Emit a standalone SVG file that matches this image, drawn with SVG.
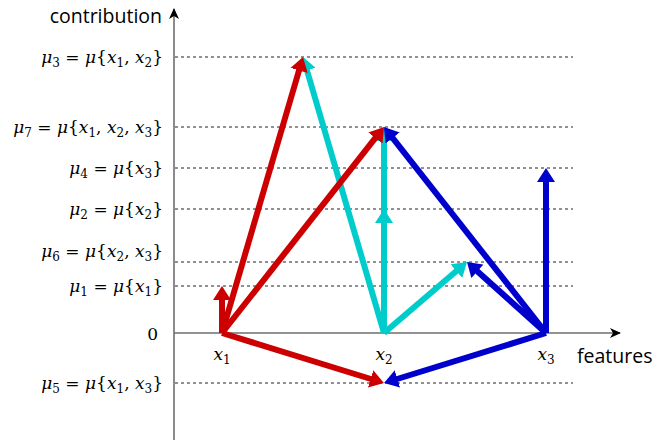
<svg xmlns="http://www.w3.org/2000/svg" width="667" height="444" viewBox="0 0 667 444">
<style>
.axis{stroke:#6e6e6e;stroke-width:1.6;fill:none}
.grid{stroke:#222;stroke-width:1;stroke-dasharray:3,3;fill:none}
.ser{font-family:'DejaVu Serif','Liberation Serif',serif;font-size:17px;fill:#000}
.i{font-style:italic}
.sub{font-size:12px}
.sans{font-family:'Open Sans','Liberation Sans',sans-serif;font-size:19.5px;fill:#000}
.r{stroke:#cc0000;stroke-width:6;fill:none;marker-end:url(#hr)}
.c{stroke:#00cccc;stroke-width:6;fill:none;marker-end:url(#hc)}
.b{stroke:#0000cc;stroke-width:6;fill:none;marker-end:url(#hb)}
</style>
<defs>
<marker id="ax" markerUnits="userSpaceOnUse" markerWidth="12" markerHeight="10" refX="10" refY="5" orient="auto"><path d="M0,0 L11,5 L0,10 L3,5 z" fill="#000"/></marker>
<marker id="hr" markerUnits="userSpaceOnUse" markerWidth="14" markerHeight="18" refX="2" refY="9" orient="auto"><path d="M0,0 L14,9 L0,18 z" fill="#cc0000"/></marker>
<marker id="hc" markerUnits="userSpaceOnUse" markerWidth="14" markerHeight="18" refX="2" refY="9" orient="auto"><path d="M0,0 L14,9 L0,18 z" fill="#00cccc"/></marker>
<marker id="hb" markerUnits="userSpaceOnUse" markerWidth="14" markerHeight="18" refX="2" refY="9" orient="auto"><path d="M0,0 L14,9 L0,18 z" fill="#0000cc"/></marker>
</defs>
<rect width="667" height="444" fill="#fff"/>
<g id="grid">
<line class="grid" x1="175" y1="57" x2="573" y2="57"/>
<line class="grid" x1="175" y1="127" x2="573" y2="127"/>
<line class="grid" x1="175" y1="168" x2="573" y2="168"/>
<line class="grid" x1="175" y1="209" x2="573" y2="209"/>
<line class="grid" x1="175" y1="262" x2="573" y2="262"/>
<line class="grid" x1="175" y1="286" x2="573" y2="286"/>
<line class="grid" x1="175" y1="383" x2="573" y2="383"/>
</g>
<g id="axes">
<line class="axis" x1="174" y1="440" x2="174" y2="9" marker-end="url(#ax)"/>
<line class="axis" x1="174" y1="333" x2="620" y2="333" marker-end="url(#ax)"/>
<text class="sans" x="162" y="23" text-anchor="end">contribution</text>
<text class="sans" x="577" y="363">features</text>
</g>
<g id="labels">
<text class="ser" x="163" y="63" text-anchor="end"><tspan class="i">μ</tspan><tspan class="sub" dy="4">3</tspan><tspan dy="-4"> = </tspan><tspan class="i">μ</tspan>{<tspan class="i">x</tspan><tspan class="sub" dy="4">1</tspan><tspan dy="-4">, </tspan><tspan class="i">x</tspan><tspan class="sub" dy="4">2</tspan><tspan dy="-4">}</tspan></text>
<text class="ser" x="163" y="133" text-anchor="end"><tspan class="i">μ</tspan><tspan class="sub" dy="4">7</tspan><tspan dy="-4"> = </tspan><tspan class="i">μ</tspan>{<tspan class="i">x</tspan><tspan class="sub" dy="4">1</tspan><tspan dy="-4">, </tspan><tspan class="i">x</tspan><tspan class="sub" dy="4">2</tspan><tspan dy="-4">, </tspan><tspan class="i">x</tspan><tspan class="sub" dy="4">3</tspan><tspan dy="-4">}</tspan></text>
<text class="ser" x="163" y="174" text-anchor="end"><tspan class="i">μ</tspan><tspan class="sub" dy="4">4</tspan><tspan dy="-4"> = </tspan><tspan class="i">μ</tspan>{<tspan class="i">x</tspan><tspan class="sub" dy="4">3</tspan><tspan dy="-4">}</tspan></text>
<text class="ser" x="163" y="215" text-anchor="end"><tspan class="i">μ</tspan><tspan class="sub" dy="4">2</tspan><tspan dy="-4"> = </tspan><tspan class="i">μ</tspan>{<tspan class="i">x</tspan><tspan class="sub" dy="4">2</tspan><tspan dy="-4">}</tspan></text>
<text class="ser" x="163" y="257" text-anchor="end"><tspan class="i">μ</tspan><tspan class="sub" dy="4">6</tspan><tspan dy="-4"> = </tspan><tspan class="i">μ</tspan>{<tspan class="i">x</tspan><tspan class="sub" dy="4">2</tspan><tspan dy="-4">, </tspan><tspan class="i">x</tspan><tspan class="sub" dy="4">3</tspan><tspan dy="-4">}</tspan></text>
<text class="ser" x="163" y="292" text-anchor="end"><tspan class="i">μ</tspan><tspan class="sub" dy="4">1</tspan><tspan dy="-4"> = </tspan><tspan class="i">μ</tspan>{<tspan class="i">x</tspan><tspan class="sub" dy="4">1</tspan><tspan dy="-4">}</tspan></text>
<text class="ser" x="158" y="340" text-anchor="end">0</text>
<text class="ser" x="163" y="389" text-anchor="end"><tspan class="i">μ</tspan><tspan class="sub" dy="4">5</tspan><tspan dy="-4"> = </tspan><tspan class="i">μ</tspan>{<tspan class="i">x</tspan><tspan class="sub" dy="4">1</tspan><tspan dy="-4">, </tspan><tspan class="i">x</tspan><tspan class="sub" dy="4">3</tspan><tspan dy="-4">}</tspan></text>
<text class="ser" x="222" y="360" text-anchor="middle"><tspan class="i">x</tspan><tspan class="sub" dy="4">1</tspan></text>
<text class="ser" x="384" y="360" text-anchor="middle"><tspan class="i">x</tspan><tspan class="sub" dy="4">2</tspan></text>
<text class="ser" x="546" y="360" text-anchor="middle"><tspan class="i">x</tspan><tspan class="sub" dy="4">3</tspan></text>
</g>
<g id="connectors">
<line class="c" x1="384" y1="333" x2="306.4" y2="68.5"/>
<line class="c" x1="384" y1="333" x2="384" y2="139"/>
<line class="c" x1="384" y1="333" x2="384" y2="221"/>
<line class="c" x1="384" y1="333" x2="457.9" y2="269.8"/>
<line class="r" x1="222" y1="333" x2="299.6" y2="68.5"/>
<line class="r" x1="222" y1="333" x2="376.6" y2="136.4"/>
<line class="r" x1="222" y1="333" x2="222" y2="298"/>
<line class="r" x1="222" y1="333" x2="372.5" y2="379.5"/>
<line class="b" x1="546" y1="333" x2="391.4" y2="136.4"/>
<line class="b" x1="546" y1="333" x2="475.9" y2="270"/>
<line class="b" x1="546" y1="333" x2="546" y2="180"/>
<line class="b" x1="546" y1="333" x2="395.5" y2="379.5"/>
</g>
</svg>
